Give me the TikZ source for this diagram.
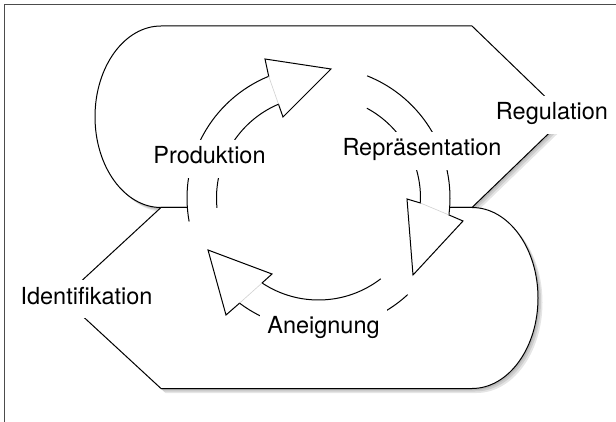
\documentclass[tikz,border=0pt]{standalone}
\usepackage{fontspec}
\setmainfont{TeX Gyre Heros}
\usetikzlibrary{calc}
\tikzset{
  shapeline/.style={draw=black, line width=1pt, fill=white, line join=round},
  shadowfill/.style={fill=black, fill opacity=0.1, draw=none},
  arrowbody/.style={draw=black, line width=1pt, fill=white, line join=miter},
  faint/.style={draw=black!18, line width=0.6pt},
  lab/.style={fill=white, inner xsep=7pt, inner ysep=0pt, text height=24pt, text depth=14pt,
    font=\fontsize{23.5}{28}\selectfont, anchor=base, text=black},
  frameline/.style={draw=black!70, line width=1.2pt}
}
\begin{document}
\begin{tikzpicture}[x=1pt, y=-1pt]
\useasboundingbox (0,0) rectangle (616,422);
% frame (left and top edges)
\draw[frameline] (4.7,422) -- (4.7,4.7) -- (616,4.7);
% upper shape: shadow + body
\foreach \s in {1.5,3,4.5} {
  \path[shadowfill, shift={(\s,\s)}] (161,26) -- (472,26) -- (566,116.75) -- (472,207.5) -- (161,207.5)
    arc[start angle=90, end angle=270, x radius=66, y radius=90.75] -- cycle;
}
\path[shapeline] (161,26) -- (472,26) -- (566,116.75) -- (472,207.5) -- (161,207.5)
    arc[start angle=90, end angle=270, x radius=66, y radius=90.75] -- cycle;
% lower shape: shadow + body
\foreach \s in {1.5,3,4.5} {
  \path[shadowfill, shift={(\s,\s)}] (161,207.5) -- (472,207.5)
    arc[start angle=270, end angle=450, x radius=66, y radius=90.5] -- (161,388.5) -- (63,298) -- cycle;
}
\path[shapeline] (161,207.5) -- (472,207.5)
    arc[start angle=270, end angle=450, x radius=66, y radius=90.5] -- (161,388.5) -- (63,298) -- cycle;
% centre of the cycle
\coordinate (C) at (318.5,198);
\fill[white] (C) circle[radius=131.5];
% Produktion arrow
\coordinate (pOt) at ($(C)+(169.7:131.5)$);
\coordinate (pOj) at ($(C)+(247.75:131.5)$);
\coordinate (pIj) at ($(C)+(246.9:102)$);
\coordinate (pA) at (265,59);
\coordinate (pT) at (331,69);
\coordinate (pB) at (283,117);
\draw[arrowbody] (pOt) arc[start angle=169.7, end angle=247.75, radius=131.5]
  -- (pA) -- (pT) -- (pB) -- (pIj) arc[start angle=246.9, end angle=174.4, radius=102];
\draw[faint] (pOj) -- (pIj);
% Repraesentation arrow
\coordinate (rOt) at ($(C)+(291.7:131.5)$);
\coordinate (rOj) at ($(C)+(367.4:131.5)$);
\coordinate (rIj) at ($(C)+(362.8:102)$);
\coordinate (rA) at (463,221);
\coordinate (rT) at (413,275);
\coordinate (rB) at (407,199);
\draw[arrowbody] (rOt) arc[start angle=291.7, end angle=367.4, radius=131.5]
  -- (rA) -- (rT) -- (rB) -- (rIj) arc[start angle=362.8, end angle=298.3, radius=102];
\draw[faint] (rOj) -- (rIj);
% Aneignung arrow
\coordinate (aOt) at ($(C)+(47.3:131.5)$);
\coordinate (aOj) at ($(C)+(126.9:131.5)$);
\coordinate (aIj) at ($(C)+(123.6:102)$);
\coordinate (aA) at (226,315);
\coordinate (aT) at (208,250);
\coordinate (aB) at (272,274);
\draw[arrowbody] (aOt) arc[start angle=47.3, end angle=126.9, radius=131.5]
  -- (aA) -- (aT) -- (aB) -- (aIj) arc[start angle=123.6, end angle=52.4, radius=102];
\draw[faint] (aOj) -- (aIj);
% labels
\node[lab] (prod) at (209.5,164) {Produktion};
\node[lab] (repr) at (422,156) {Repräsentation};
\node[lab] (regu) at (552,120) {Regulation};
\node[lab] (iden) at (86.5,304) {Identifikation};
\node[lab] (aneig) at (323.5,333) {Aneignung};
\end{tikzpicture}
\end{document}
